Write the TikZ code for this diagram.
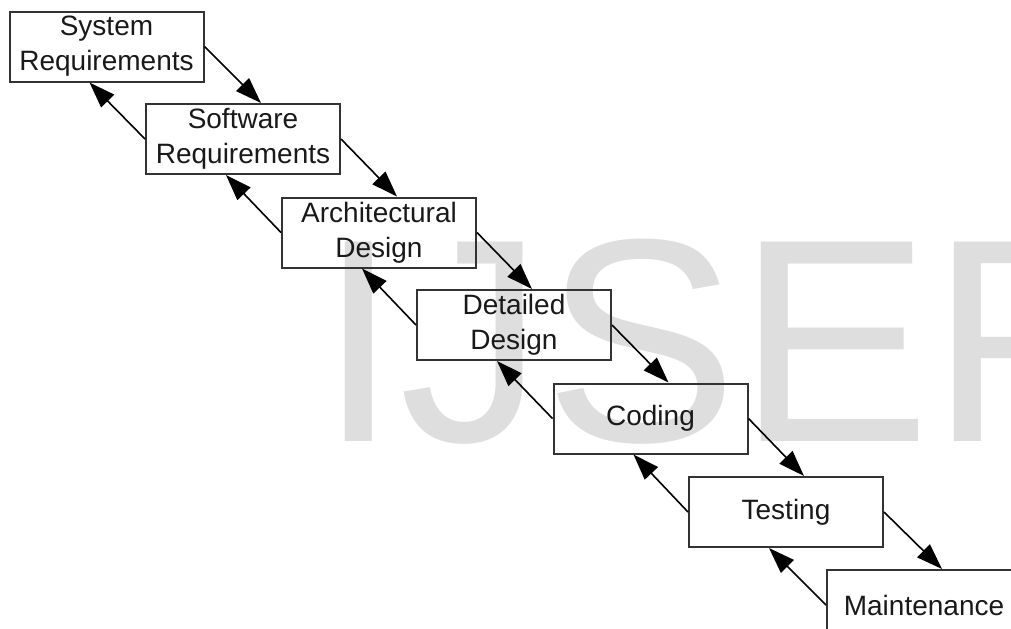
\documentclass[tikz,border=0pt]{standalone}
\usepackage{fontspec}
\setmainfont{Liberation Sans}
\usetikzlibrary{arrows.meta}

% one box per phase, arrows down (next phase) and back up (feedback)
\tikzset{
  stage/.style={draw=black!80, line width=1pt, minimum width=97pt,
    minimum height=35pt, inner sep=0pt, align=center,
    font=\fontsize{14}{17.5}\selectfont, text=black!90},
  flow/.style={-{Triangle[length=13pt,width=9pt]}, line width=0.8pt},
}

\begin{document}
\begin{tikzpicture}[x=0.5pt,y=-0.5pt]
    \useasboundingbox (0,0) rectangle (1011,628);
    \clip (0,0) rectangle (1011,628);

    % watermark behind everything
    \node[anchor=base west, inner sep=0pt, text=black!13,
      font=\fontsize{145}{145}\selectfont] (mark) at (318,441) {IJSER};

    \node[stage] (sysreq) at (106.5,46.5) {System\\Requirements};
    \node[stage] (swreq) at (243,139) {Software\\Requirements};
    \node[stage] (arch) at (379,232.5) {Architectural\\Design};
    \node[stage] (detail) at (514,325) {Detailed\\Design};
    \node[stage] (coding) at (650.5,418.5) {Coding};
    \node[stage] (testing) at (786,512) {Testing};
    \node[stage] (maint) at (924,605) {Maintenance};

    \draw[flow] (sysreq.east) -- ([xshift=9pt]swreq.north);
    \draw[flow] (swreq.east) -- ([xshift=9pt]arch.north);
    \draw[flow] (arch.east) -- ([xshift=9pt]detail.north);
    \draw[flow] (detail.east) -- ([xshift=9pt]coding.north);
    \draw[flow] (coding.east) -- ([xshift=9pt]testing.north);
    \draw[flow] (testing.east) -- ([xshift=9pt]maint.north);

    \draw[flow] (swreq.west) -- ([xshift=-8.5pt]sysreq.south);
    \draw[flow] (arch.west) -- ([xshift=-8.5pt]swreq.south);
    \draw[flow] (detail.west) -- ([xshift=-8.5pt]arch.south);
    \draw[flow] (coding.west) -- ([xshift=-8.5pt]detail.south);
    \draw[flow] (testing.west) -- ([xshift=-8.5pt]coding.south);
    \draw[flow] (maint.west) -- ([xshift=-8.5pt]testing.south);

\end{tikzpicture}
\end{document}
